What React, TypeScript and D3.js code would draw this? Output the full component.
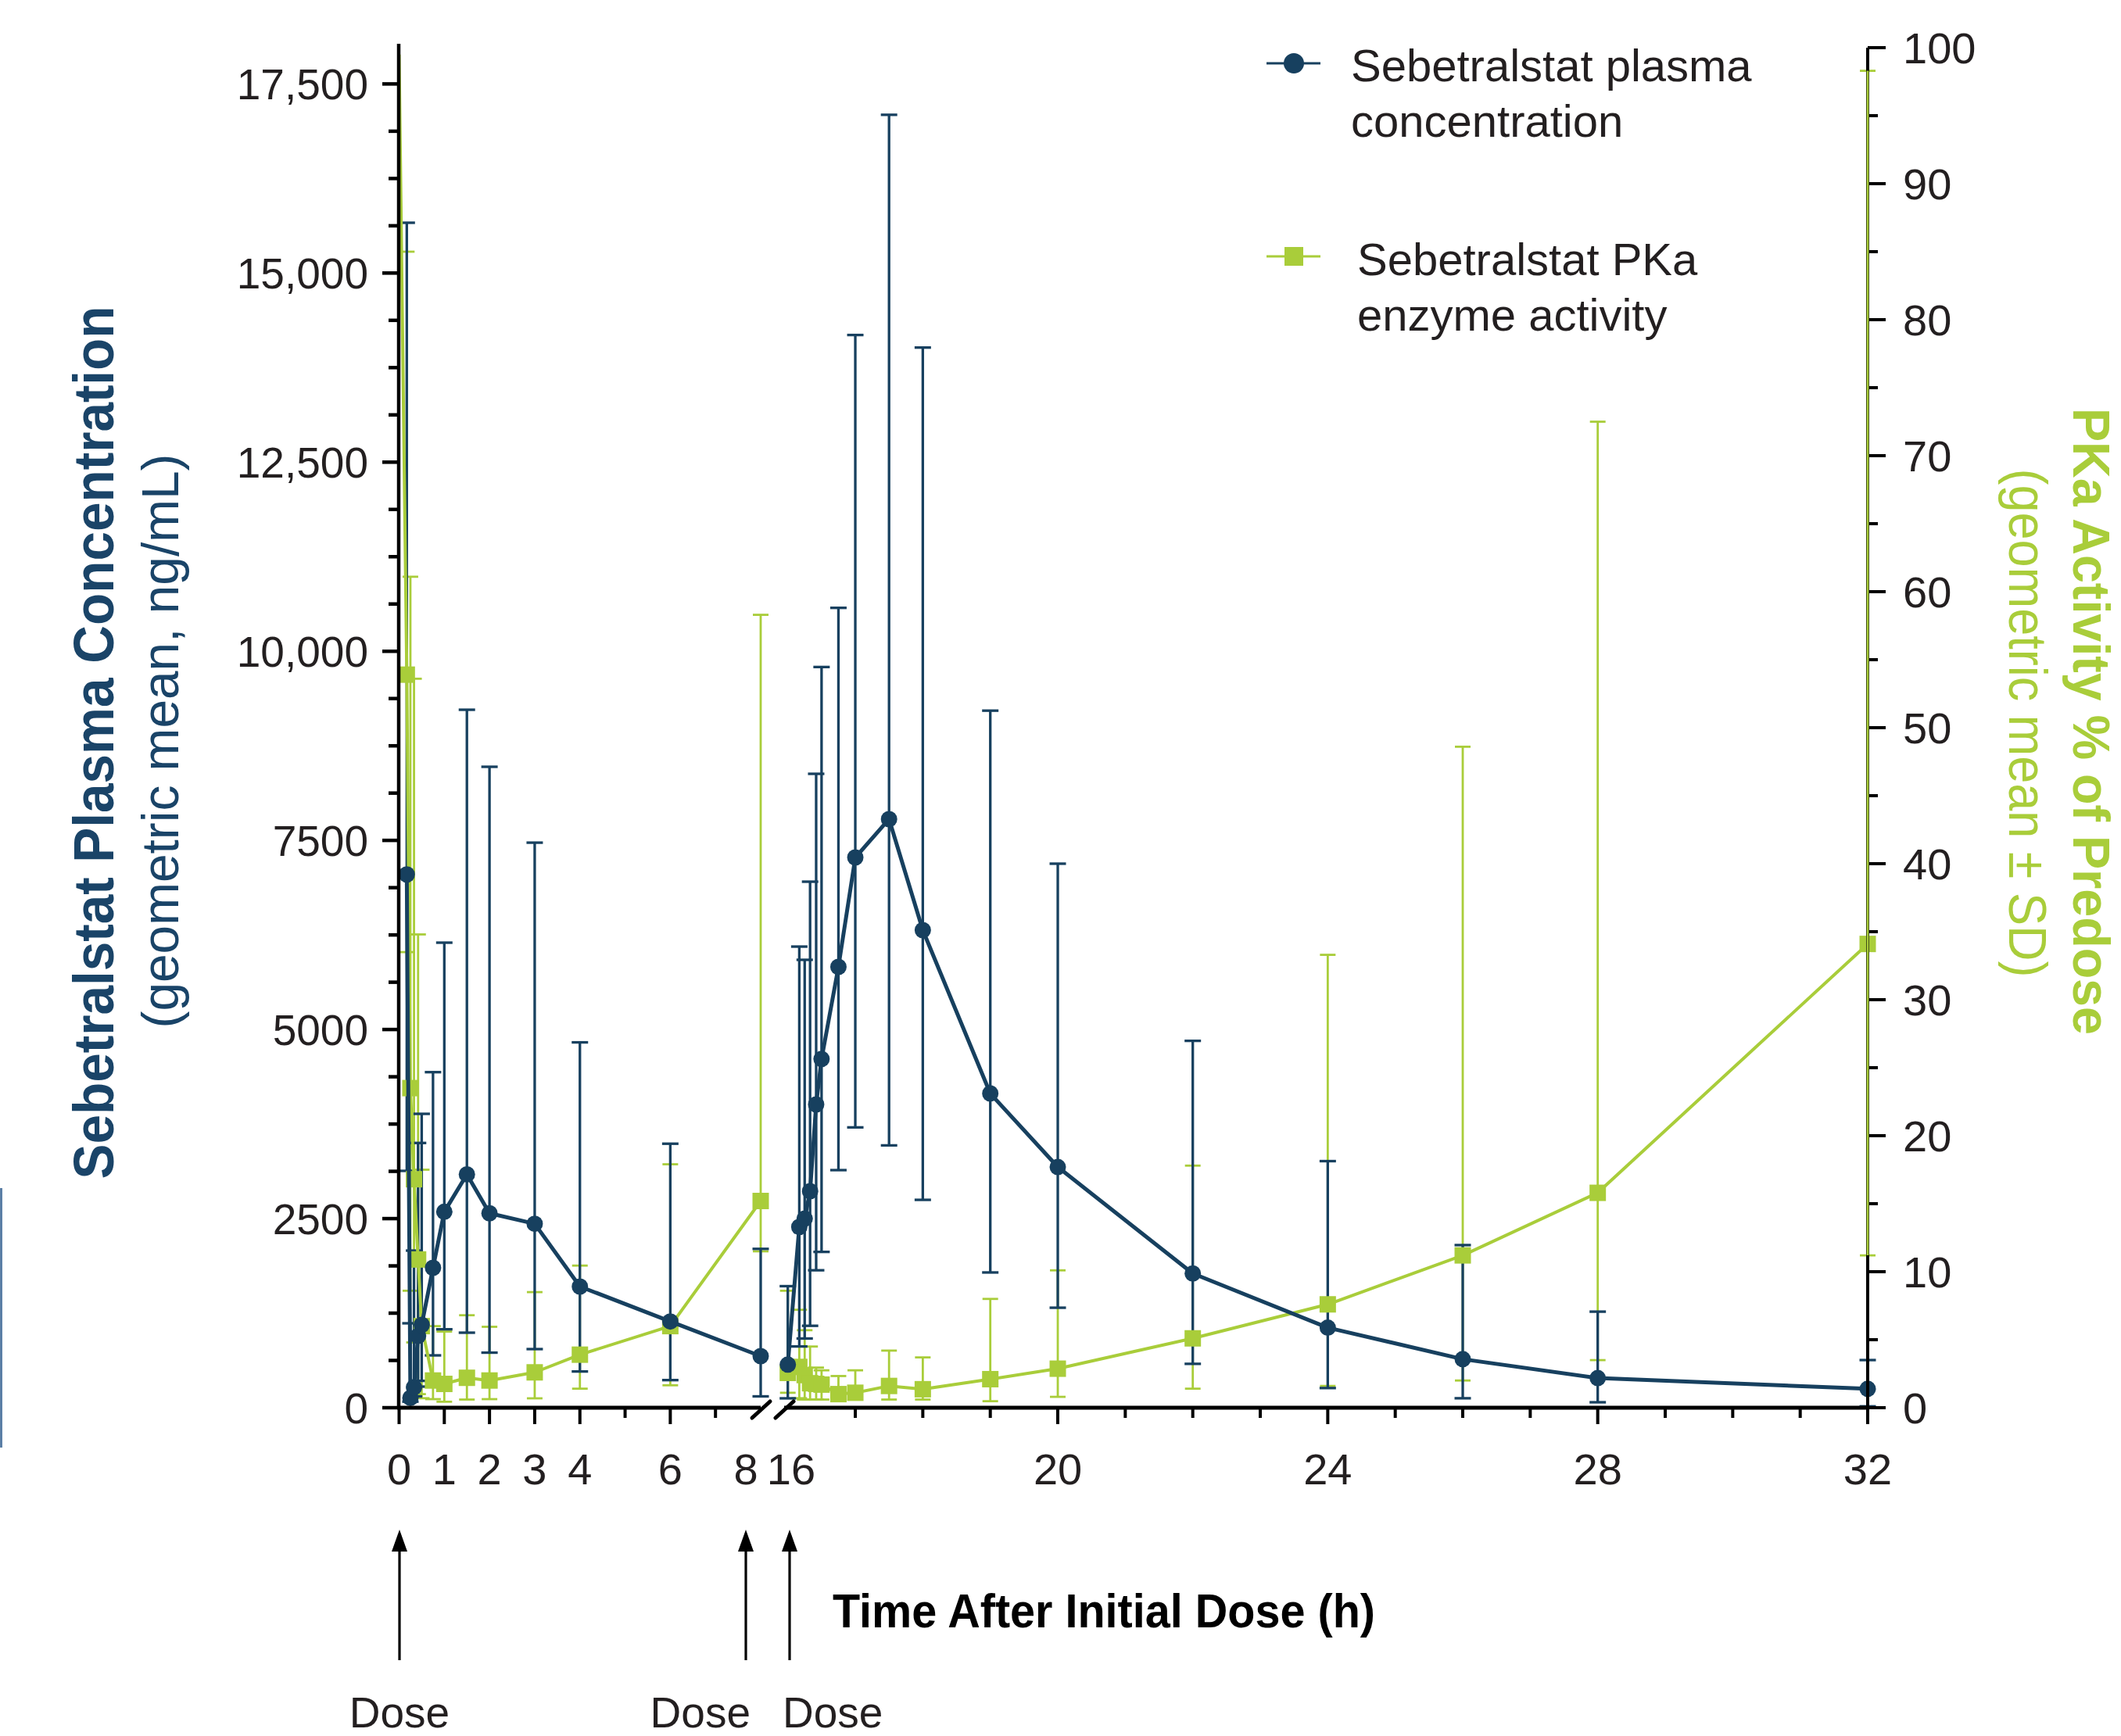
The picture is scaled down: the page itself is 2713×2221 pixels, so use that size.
import React from 'react';
import * as d3 from 'd3';

const W = 2713;
const H = 2221;
const NAVY = '#17405f';
const NAVY_TITLE = '#1a4468';
const GREEN = '#a9cd3a';
const INK = '#231f20';
const FONT = '"Liberation Sans", Arial, Helvetica, sans-serif';

// ---------- data: plasma concentration (ng/mL), geometric mean with SD range ----------
const blueTimes1 = [0.17, 0.25, 0.33, 0.42, 0.5, 0.75, 1, 1.5, 2, 3, 4, 6, 8];
const blueMean1 = [7050, 130, 270, 950, 1095, 1850, 2590, 3085, 2570, 2432, 1602, 1140, 682];
const blueLow1 = [3131, 80, 150, 279, 355, 692, 1037, 992, 728, 775, 479, 365, 150];
const blueHigh1 = [15665, 1116, 2077, 3500, 3885, 4436, 6148, 9227, 8473, 7470, 4830, 3490, 2100];

const blueTimes2 = [16, 16.17, 16.25, 16.33, 16.42, 16.5, 16.75, 17, 17.5, 18, 19, 20, 22, 24, 26, 28, 32];
const blueMean2 = [570, 2390, 2500, 2862, 4009, 4610, 5828, 7274, 7781, 6313, 4154, 3182, 1775, 1058, 642, 392, 250];
const blueLow2 = [124, 810, 915, 1083, 1817, 2060, 3141, 3706, 3468, 2748, 1788, 1322, 580, 260, 125, 72, 18];
const blueHigh2 = [1607, 6096, 5921, 6954, 8380, 9792, 10574, 14181, 17092, 14015, 9215, 7192, 4850, 3260, 2150, 1270, 630];

// ---------- data: PKa enzyme activity (% of predose) ----------
const greenTimes1 = [0, 0.17, 0.25, 0.33, 0.42, 0.5, 0.75, 1, 1.5, 2, 3, 4, 6, 8];
const greenMean1 = [99.5, 53.9, 23.5, 16.8, 10.9, 6.0, 2.0, 1.75, 2.2, 2.0, 2.6, 3.9, 6.0, 15.2];
const greenLow1 = [NaN, 33.5, 8.6, 4.8, 1.0, 0.7, 0.63, 0.44, 0.6, 0.63, 0.69, 1.4, 1.65, 11.5];
const greenHigh1 = [NaN, 85, 61.1, 53.6, 34.8, 17.5, 6.0, 5.6, 6.8, 5.95, 8.5, 10.45, 17.9, 58.3];

const greenTimes2 = [16, 16.17, 16.25, 16.33, 16.42, 16.5, 16.75, 17, 17.5, 18, 19, 20, 22, 24, 26, 28, 32];
const greenMean2 = [2.56, 3.0, 2.4, 1.8, 1.75, 1.7, 1.0, 1.1, 1.6, 1.36, 2.1, 2.87, 5.1, 7.6, 11.2, 15.8, 34.1];
const greenLow2 = [1.1, 0.7, 0.6, 0.6, 0.6, 0.6, 0.6, 0.6, 0.6, 0.6, 0.48, 0.8, 1.4, 1.6, 2.0, 3.5, 11.2];
const greenHigh2 = [8.6, 7.2, 5.7, 4.5, 2.95, 2.75, 2.33, 2.75, 4.2, 3.7, 8.0, 10.1, 17.8, 33.3, 48.6, 72.5, 98.3];

// ---------- axes ----------
const leftTicks = [0, 2500, 5000, 7500, 10000, 12500, 15000, 17500];
const leftTickLabels = ['0', '2500', '5000', '7500', '10,000', '12,500', '15,000', '17,500'];
const rightTicks = [0, 10, 20, 30, 40, 50, 60, 70, 80, 90, 100];
const xMajor1 = [0, 1, 2, 3, 4, 6];
const xMinor1 = [5, 7];
const xMajor2 = [20, 24, 28, 32];
const xMinor2 = [17, 18, 19, 21, 22, 23, 25, 26, 27, 29, 30, 31];
const xLabels = ['0', '1', '2', '3', '4', '6', '8', '16', '20', '24', '28', '32'];
const xLabelTimes = [0, 1, 2, 3, 4, 6, 8, 16, 20, 24, 28, 32];
const doseTimes = [0, 8, 16];

const legendLabels = [
  ['Sebetralstat plasma', 'concentration'],
  ['Sebetralstat PKa', 'enzyme activity'],
];

export default function App() {
  React.useEffect(() => {
    document.body.style.margin = '0';
  }, []);

  const xA = d3.scaleLinear().domain([0, 8]).range([510.5, 973]);
  const xB = d3.scaleLinear().domain([16, 32]).range([1007.7, 2389]);
  const x = (t: number) => (t <= 8 ? xA(t) : xB(t));
  const yL = d3.scaleLinear().domain([0, 18000]).range([1801, 59]);
  const yR = d3.scaleLinear().domain([0, 100]).range([1801, 61]);

  const axisX0 = 510;
  const axisX1 = 2389;
  const axisY = 1801;

  const lineL = d3.line<[number, number]>().x((d) => x(d[0])).y((d) => yL(d[1]));
  const lineR = d3.line<[number, number]>().x((d) => x(d[0])).y((d) => yR(d[1]));

  const zip = (a: number[], b: number[]) => a.map((t, i) => [t, b[i]] as [number, number]);

  const errBars = (
    times: number[],
    lo: number[],
    hi: number[],
    y: (v: number) => number,
    color: string,
    sw: number,
    cap: number,
    key: string
  ) =>
    times.map((t, i) => {
      if (isNaN(lo[i]) || isNaN(hi[i])) return null;
      const cx = x(t);
      return (
        <g key={key + i} stroke={color} strokeWidth={sw}>
          <line x1={cx} x2={cx} y1={y(lo[i])} y2={y(hi[i])} />
          <line x1={cx - cap / 2} x2={cx + cap / 2} y1={y(hi[i])} y2={y(hi[i])} />
          <line x1={cx - cap / 2} x2={cx + cap / 2} y1={y(lo[i])} y2={y(lo[i])} />
        </g>
      );
    });

  const leftMinor = d3.range(0, 18001, 625).filter((v) => v % 2500 !== 0);
  const rightMinor = d3.range(5, 100, 10);

  return (
    <svg
      width={W}
      height={H}
      viewBox={`0 0 ${W} ${H}`}
      style={{ position: 'absolute', left: 0, top: 0, background: '#fff' }}
      fontFamily={FONT}
    >
      <rect x={0} y={0} width={W} height={H} fill="#fff" />
      {/* stray edge line */}
      <rect x={0} y={1520} width={3} height={332} fill="#5b7fa6" />

      {/* error bars */}
      {errBars(greenTimes1, greenLow1, greenHigh1, yR, GREEN, 2.8, 20, 'g1')}
      {errBars(greenTimes2, greenLow2, greenHigh2, yR, GREEN, 2.8, 20, 'g2')}
      {errBars(blueTimes1, blueLow1, blueHigh1, yL, NAVY, 3.3, 21, 'b1')}
      {errBars(blueTimes2, blueLow2, blueHigh2, yL, NAVY, 3.3, 21, 'b2')}

      {/* green series */}
      <path d={lineR(zip(greenTimes1, greenMean1)) || ''} fill="none" stroke={GREEN} strokeWidth={4} strokeLinejoin="round" />
      <path d={lineR(zip(greenTimes2, greenMean2)) || ''} fill="none" stroke={GREEN} strokeWidth={4} strokeLinejoin="round" />
      {greenTimes1.map((t, i) =>
        i === 0 ? null : (
          <rect key={'gs1' + i} x={x(t) - 10.5} y={yR(greenMean1[i]) - 10.5} width={21} height={21} fill={GREEN} />
        )
      )}
      {greenTimes2.map((t, i) => (
        <rect key={'gs2' + i} x={x(t) - 10.5} y={yR(greenMean2[i]) - 10.5} width={21} height={21} fill={GREEN} />
      ))}

      {/* blue series */}
      <path d={lineL(zip(blueTimes1, blueMean1)) || ''} fill="none" stroke={NAVY} strokeWidth={5} strokeLinejoin="round" />
      <path d={lineL(zip(blueTimes2, blueMean2)) || ''} fill="none" stroke={NAVY} strokeWidth={5} strokeLinejoin="round" />
      {blueTimes1.map((t, i) => (
        <circle key={'bc1' + i} cx={x(t)} cy={yL(blueMean1[i])} r={10.5} fill={NAVY} />
      ))}
      {blueTimes2.map((t, i) => (
        <circle key={'bc2' + i} cx={x(t)} cy={yL(blueMean2[i])} r={10.5} fill={NAVY} />
      ))}

      {/* left axis */}
      <g stroke="#000" strokeWidth={4.5}>
        <line x1={axisX0} x2={axisX0} y1={56} y2={axisY + 2} />
        {leftTicks.map((v) => (
          <line key={'lt' + v} x1={axisX0 - 21} x2={axisX0} y1={yL(v)} y2={yL(v)} />
        ))}
        {leftMinor.map((v) => (
          <line key={'lm' + v} x1={axisX0 - 13} x2={axisX0} y1={yL(v)} y2={yL(v)} />
        ))}
      </g>
      {leftTicks.map((v, i) => (
        <text key={'ltl' + v} x={471} y={yL(v)} dy="0.36em" textAnchor="end" fontSize={55} fill={INK}>
          {leftTickLabels[i]}
        </text>
      ))}

      {/* right axis */}
      <g stroke="#000" strokeWidth={4}>
        <line x1={axisX1} x2={axisX1} y1={yR(100)} y2={axisY + 2} />
        {rightTicks.map((v) => (
          <line key={'rt' + v} x1={axisX1} x2={axisX1 + 23} y1={yR(v)} y2={yR(v)} />
        ))}
        {rightMinor.map((v) => (
          <line key={'rm' + v} x1={axisX1} x2={axisX1 + 13} y1={yR(v)} y2={yR(v)} />
        ))}
      </g>
      {/* green bar drawn over the right axis, as in the reference */}
      <line x1={x(32)} x2={x(32)} y1={yR(greenLow2[16])} y2={yR(greenHigh2[16])} stroke={GREEN} strokeWidth={2.8} />
      {rightTicks.map((v) => (
        <text key={'rtl' + v} x={2434} y={yR(v)} dy="0.36em" textAnchor="start" fontSize={56} fill={INK}>
          {v}
        </text>
      ))}

      {/* x axis with break */}
      <g stroke="#000" strokeWidth={5}>
        <line x1={axisX0 - 2} x2={973} y1={axisY} y2={axisY} />
        <line x1={1003} x2={axisX1 + 2} y1={axisY} y2={axisY} />
      </g>
      <g stroke="#000" strokeWidth={5} strokeLinecap="round">
        <line x1={962} y1={1814} x2={985} y2={1793} />
        <line x1={992} y1={1814} x2={1015} y2={1793} />
      </g>
      <g stroke="#000" strokeWidth={4}>
        {xMajor1.map((t) => (
          <line key={'xm1' + t} x1={xA(t)} x2={xA(t)} y1={axisY} y2={axisY + 21} />
        ))}
        {xMinor1.map((t) => (
          <line key={'xn1' + t} x1={xA(t)} x2={xA(t)} y1={axisY} y2={axisY + 13} />
        ))}
        {xMajor2.map((t) => (
          <line key={'xm2' + t} x1={xB(t)} x2={xB(t)} y1={axisY} y2={axisY + 21} />
        ))}
        {xMinor2.map((t) => (
          <line key={'xn2' + t} x1={xB(t)} x2={xB(t)} y1={axisY} y2={axisY + 13} />
        ))}
      </g>
      {xLabels.map((lab, i) => {
        const t = xLabelTimes[i];
        let px = x(t);
        if (t === 8) px = 954;
        if (t === 16) px = 1012;
        return (
          <text key={'xl' + lab} x={px} y={1899} textAnchor="middle" fontSize={56} fill={INK}>
            {lab}
          </text>
        );
      })}

      {/* dose arrows */}
      {doseTimes.map((t) => {
        const ax = t === 0 ? 511 : t === 8 ? 954 : 1010;
        return (
          <g key={'dose' + t}>
            <line x1={ax} x2={ax} y1={1975} y2={2124} stroke="#000" strokeWidth={3.2} />
            <path d={`M${ax},1957 L${ax - 10},1985 L${ax + 10},1985 Z`} fill="#000" />
          </g>
        );
      })}
      <text x={511} y={2210} textAnchor="middle" fontSize={55} fill={INK}>Dose</text>
      <text x={960} y={2210} textAnchor="end" fontSize={55} fill={INK}>Dose</text>
      <text x={1001} y={2210} textAnchor="start" fontSize={55} fill={INK}>Dose</text>

      {/* x title */}
      <text x={1065} y={2082} fontSize={61} fontWeight="bold" fill="#000" textLength={694} lengthAdjust="spacingAndGlyphs">
        Time After Initial Dose (h)
      </text>

      {/* left titles */}
      <text
        transform="translate(145,950) rotate(-90)"
        textAnchor="middle"
        fontSize={72}
        fontWeight="bold"
        fill={NAVY_TITLE}
        textLength={1117}
        lengthAdjust="spacingAndGlyphs"
      >
        Sebetralstat Plasma Concentration
      </text>
      <text
        transform="translate(228,948) rotate(-90)"
        textAnchor="middle"
        fontSize={67}
        fill={NAVY_TITLE}
        textLength={735}
        lengthAdjust="spacingAndGlyphs"
      >
        (geometric mean, ng/mL)
      </text>

      {/* right titles */}
      <text
        transform="translate(2652,923) rotate(90)"
        textAnchor="middle"
        fontSize={67}
        fontWeight="bold"
        fill={GREEN}
        textLength={802}
        lengthAdjust="spacingAndGlyphs"
      >
        PKa Activity % of Predose
      </text>
      <text
        transform="translate(2570,925) rotate(90)"
        textAnchor="middle"
        fontSize={68}
        fill={GREEN}
        textLength={651}
        lengthAdjust="spacingAndGlyphs"
      >
        (geometric mean ± SD)
      </text>

      {/* legend */}
      <g>
        <line x1={1620} x2={1689} y1={81} y2={81} stroke={NAVY} strokeWidth={3} />
        <circle cx={1655} cy={81} r={13} fill={NAVY} />
        <text x={1728} y={104} fontSize={58} fill={INK}>{legendLabels[0][0]}</text>
        <text x={1728} y={175} fontSize={58} fill={INK}>{legendLabels[0][1]}</text>

        <line x1={1620} x2={1689} y1={328} y2={328} stroke={GREEN} strokeWidth={3} />
        <rect x={1643} y={316} width={24} height={24} fill={GREEN} />
        <text x={1736} y={352} fontSize={58} fill={INK}>{legendLabels[1][0]}</text>
        <text x={1736} y={423} fontSize={58} fill={INK}>{legendLabels[1][1]}</text>
      </g>
    </svg>
  );
}
